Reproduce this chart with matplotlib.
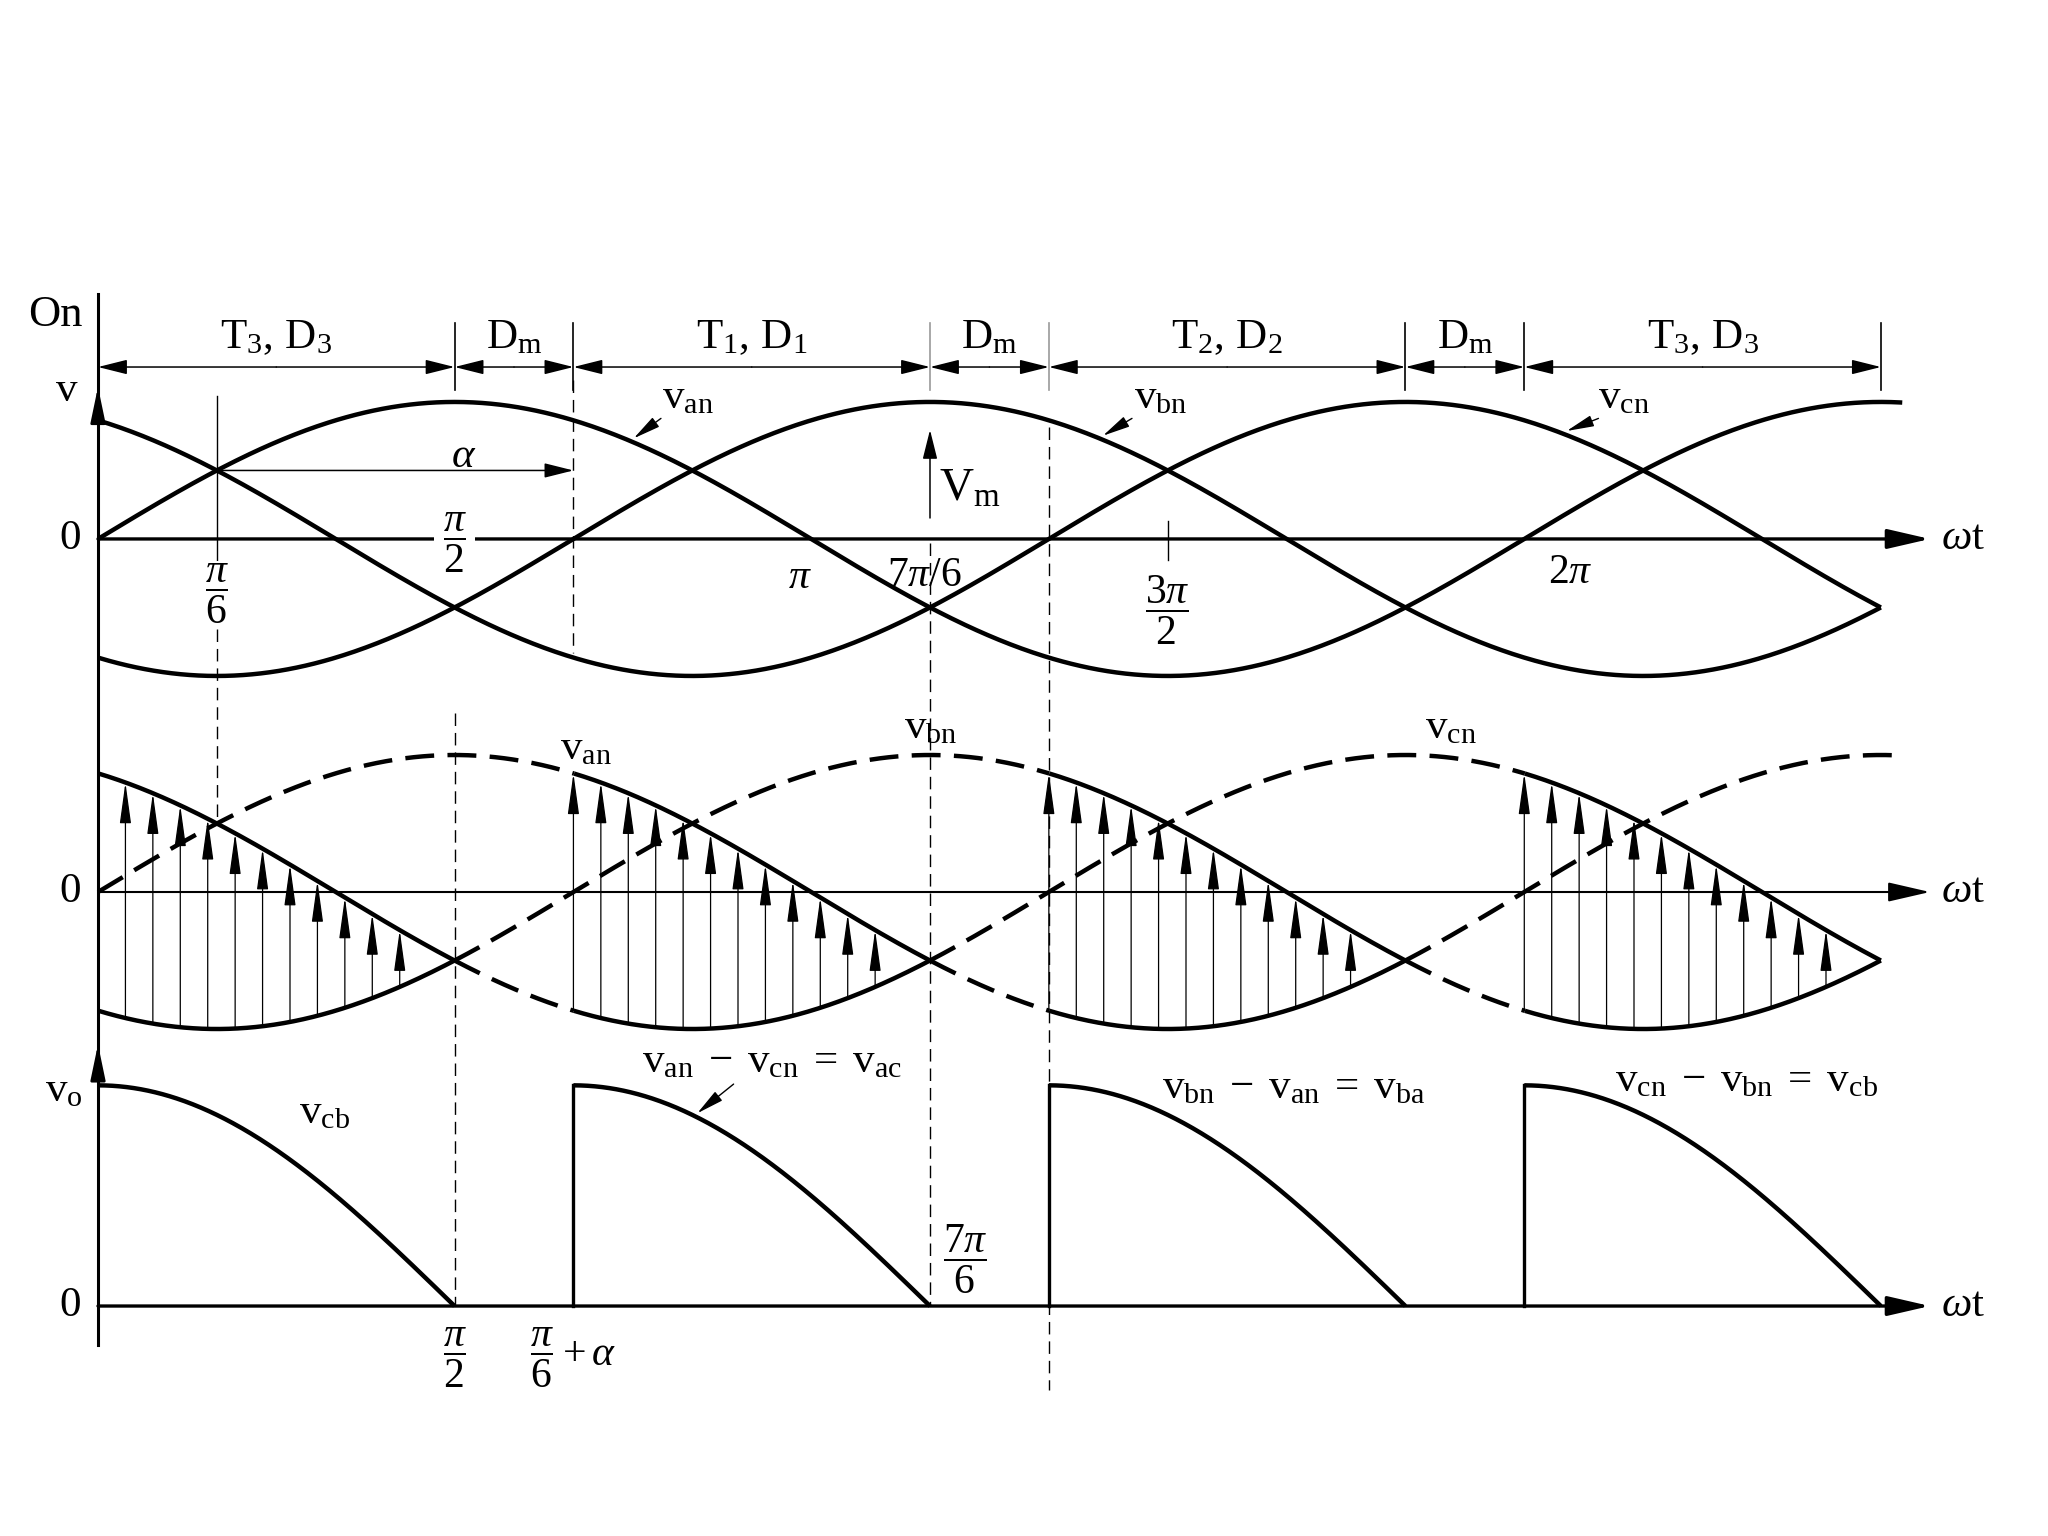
import numpy as np
import matplotlib.pyplot as plt

plt.rcParams['font.family'] = ['Liberation Serif', 'DejaVu Serif']
plt.rcParams['mathtext.fontset'] = 'custom'
plt.rcParams['mathtext.rm'] = 'Liberation Serif'
plt.rcParams['mathtext.it'] = 'Liberation Serif:italic'
plt.rcParams['mathtext.bf'] = 'Liberation Serif:bold'

PI = np.pi

# phase voltages in units of Vm
PHASES = ['an', 'bn', 'cn']
PHASE_SHIFT = [0.0, -2 * PI / 3, 2 * PI / 3]
CURVE_END = [2.53 * PI, 2.5 * PI, 2.5 * PI]

# firing angle and the conducting pairs (upper / lower phase) of each interval
ALPHA = PI / 2
COND_START = [0.0, 2 * PI / 3, 4 * PI / 3, 2 * PI]
COND_UPPER = ['cn', 'an', 'bn', 'cn']
COND_LOWER = ['bn', 'cn', 'an', 'bn']
ARROWS_PER_INTERVAL = 12

# "On" row
ON_EDGES = [0, PI / 2, 2 * PI / 3, 7 * PI / 6, 4 * PI / 3, 11 * PI / 6, 2 * PI, 5 * PI / 2]
ON_LABELS = [r'$\mathrm{T_3,\,D_3}$', r'$\mathrm{D_m}$', r'$\mathrm{T_1,\,D_1}$', r'$\mathrm{D_m}$',
             r'$\mathrm{T_2,\,D_2}$', r'$\mathrm{D_m}$', r'$\mathrm{T_3,\,D_3}$']
ON_TICK_GREY = [False, False, False, True, True, False, False, False]

# output-voltage labels
VO_LABELS = [r'$\mathrm{v_{cb}}$', r'$\mathrm{v_{an}\;-\;v_{cn}\;=\;v_{ac}}$',
             r'$\mathrm{v_{bn}\;-\;v_{an}\;=\;v_{ba}}$', r'$\mathrm{v_{cn}\;-\;v_{bn}\;=\;v_{cb}}$']

# layout (panel zero levels, in Vm units)
TOP0, MID0, BOT0 = -3.934, -6.511, -9.533
VO_SCALE = 0.93
XEND = 8.07
FS = 31
FFS = 30


def phase(name, th):
    return np.sin(th + PHASE_SHIFT[PHASES.index(name)])


def arrow(ax, p0, p1, lw=1.1, hl=1.0, hw=0.33, ms=16, style='-|>', color='k', z=5):
    ax.annotate('', xy=p1, xytext=p0,
                arrowprops=dict(arrowstyle='%s,head_length=%g,head_width=%g' % (style, hl, hw),
                                lw=lw, color=color, shrinkA=0, shrinkB=0, mutation_scale=ms),
                zorder=z)


fig = plt.figure(figsize=(20.48, 15.36), dpi=100)
ax = fig.add_axes([0, 0, 1, 1])
ax.set_xlim(-98 / 227, 1950 / 227)
ax.set_ylim(-1536 / 137, 0)
ax.axis('off')

cond_len = PI - ALPHA

# ---- vertical axis and zero lines
ax.plot([0, 0], [-2.146, -9.818], 'k', lw=2.2, zorder=3)
arrow(ax, (0, TOP0 + 0.9), (0, TOP0 + 1.11), lw=2.0, ms=18, hl=1.2, hw=0.25)
arrow(ax, (0, BOT0 + 1.7), (0, BOT0 + 1.91), lw=2.0, ms=18, hl=1.2, hw=0.25)
for lev, lw in [(TOP0, 2.4), (MID0, 1.5), (BOT0, 2.4)]:
    arrow(ax, (0, lev), (XEND, lev), lw=lw, ms=20, hl=1.3, hw=0.3, z=2)
    ax.text(-0.125, lev, '0', ha='center', va='center', fontsize=FS)
    ax.text(8.12, lev, r'$\omega\mathrm{t}$', ha='left', va='center', fontsize=FS)

ax.text(-0.19, TOP0 + 1.635, 'On', ha='center', va='center', fontsize=FS + 1)
ax.text(-0.137, TOP0 + 1.08, 'v', ha='center', va='center', fontsize=FS)
ax.text(-0.15, BOT0 + 1.57, r'$\mathrm{v_o}$', ha='center', va='center', fontsize=FS)

# ---- "On" row
for a, b, lab in zip(ON_EDGES[:-1], ON_EDGES[1:], ON_LABELS):
    arrow(ax, ((a + b) / 2, TOP0 + 1.255), (a, TOP0 + 1.255), lw=1.1, ms=15, hl=1.2, hw=0.3)
    arrow(ax, ((a + b) / 2, TOP0 + 1.255), (b, TOP0 + 1.255), lw=1.1, ms=15, hl=1.2, hw=0.3)
    ax.text((a + b) / 2, TOP0 + 1.47, lab, ha='center', va='center', fontsize=FS)
for e, grey in zip(ON_EDGES[1:], ON_TICK_GREY[1:]):
    ax.plot([e, e], [TOP0 + 1.577, TOP0 + 1.088], color='0.6' if grey else 'k', lw=1.2)

# ---- top panel: three phase voltages
for name, end in zip(PHASES, CURVE_END):
    th = np.linspace(0, end, 800)
    ax.plot(th, TOP0 + phase(name, th), 'k', lw=3.2, zorder=4, solid_capstyle='butt')

lab_top = [(2.60, 2.48, 2.36), (4.68, 4.555, 4.427), (6.72, 6.61, 6.47)]
for name, (tx, sx, px) in zip(PHASES, lab_top):
    ax.text(tx, TOP0 + 1.03, r'$\mathrm{v_{%s}}$' % name, ha='center', va='center', fontsize=FS)
    arrow(ax, (sx, TOP0 + 0.88), (px, TOP0 + phase(name, px) + 0.03), lw=1.0, ms=14, hl=1.2, hw=0.25)

# reference lines
dash = dict(color='k', lw=1.0, dashes=(9, 5), zorder=1)
ax.plot([PI / 6, PI / 6], [TOP0 + 1.04, TOP0 - 0.15], 'k', lw=1.0, zorder=1)
ax.plot([PI / 6, PI / 6], [TOP0 - 0.66, MID0 + 0.5], **dash)
ax.plot([PI / 2, PI / 2], [MID0 + 1.31, BOT0], **dash)
ax.plot([2 * PI / 3, 2 * PI / 3], [TOP0 + 1.16, TOP0 - 0.83], **dash)
ax.plot([7 * PI / 6, 7 * PI / 6], [TOP0 - 0.03, BOT0], **dash)
ax.plot([4 * PI / 3, 4 * PI / 3], [TOP0 + 0.82, BOT0 - 0.615], **dash)
ax.plot([3 * PI / 2, 3 * PI / 2], [TOP0 + 0.13, TOP0 - 0.15], 'k', lw=1.0)

# alpha and Vm
arrow(ax, (PI / 6, TOP0 + 0.5), (2 * PI / 3, TOP0 + 0.5), lw=1.1, ms=15, hl=1.2, hw=0.3)
ax.text(1.61, TOP0 + 0.60, r'$\alpha$', ha='center', va='center', fontsize=FS)
arrow(ax, (7 * PI / 6, TOP0 + 0.153), (7 * PI / 6, TOP0 + 0.796), lw=1.1, ms=15, hl=1.2, hw=0.3)
ax.text(3.84, TOP0 + 0.36, r'$\mathrm{V_m}$', ha='center', va='center', fontsize=FS + 3)

# top tick labels
bb = dict(facecolor='white', edgecolor='none', pad=6.0)
ax.text(PI / 6, TOP0 - 0.40, r'$\dfrac{\pi}{6}$', ha='center', va='center', fontsize=FFS,
        bbox=dict(facecolor='white', edgecolor='none', pad=0.5), zorder=2)
ax.text(PI / 2, TOP0 - 0.03, r'$\dfrac{\pi}{2}$', ha='center', va='center', fontsize=FFS, bbox=bb, zorder=2.5)
ax.text(3.09, TOP0 - 0.28, r'$\pi$', ha='center', va='center', fontsize=FFS)
ax.text(3.64, TOP0 - 0.27, r'$\mathrm{7}\pi\mathrm{/6}$', ha='center', va='center', fontsize=FFS)
ax.text(3 * PI / 2, TOP0 - 0.52, r'$\dfrac{3\pi}{2}$', ha='center', va='center', fontsize=FFS)
ax.text(6.485, TOP0 - 0.25, r'$2\pi$', ha='center', va='center', fontsize=FFS)

# ---- middle panel: conducting phases (solid), others dashed, arrows between
for name, end in zip(PHASES, CURVE_END):
    th = np.linspace(0, end, 2400)
    solid = np.zeros_like(th, dtype=bool)
    for s, up, lo in zip(COND_START, COND_UPPER, COND_LOWER):
        if name in (up, lo):
            solid |= (th >= s) & (th <= s + cond_len)
    y = MID0 + phase(name, th)
    dashed = ~solid | np.roll(~solid, 1) | np.roll(~solid, -1)
    ax.plot(th, np.where(solid, y, np.nan), 'k', lw=3.2, zorder=4, solid_capstyle='butt')
    ax.plot(th, np.where(dashed, y, np.nan), 'k', lw=3.2, dashes=(6.5, 3), zorder=4)

step = cond_len / (ARROWS_PER_INTERVAL + 1)
for s, up, lo in zip(COND_START, COND_UPPER, COND_LOWER):
    for k in range(ARROWS_PER_INTERVAL):
        t = s + k * step
        if t == 0:
            continue
        arrow(ax, (t, MID0 + phase(lo, t)), (t, MID0 + phase(up, t)),
              lw=0.9, ms=16, hl=1.6, hw=0.22, z=3)

for name, (tx, ty) in zip(PHASES, [(2.15, 1.04), (3.67, 1.20), (5.96, 1.20)]):
    ax.text(tx, MID0 + ty, r'$\mathrm{v_{%s}}$' % name, ha='center', va='center', fontsize=FS)

# ---- bottom panel: output voltage
for s, up, lo in zip(COND_START, COND_UPPER, COND_LOWER):
    th = np.linspace(s, s + cond_len, 400)
    vo = VO_SCALE * (phase(up, th) - phase(lo, th))
    ax.plot(th, BOT0 + vo, 'k', lw=3.2, zorder=4, solid_capstyle='butt')
    if s > 0:
        ax.plot([s, s], [BOT0, BOT0 + vo[0]], 'k', lw=2.4, zorder=4)

vo_pos = [(1.0, 1.41), (2.97, 1.78), (5.27, 1.59), (7.26, 1.64)]
for lab, (tx, ty) in zip(VO_LABELS, vo_pos):
    ax.text(tx, BOT0 + ty, lab, ha='center', va='center', fontsize=FS)
t_tip = 2.64
arrow(ax, (2.80, BOT0 + 1.62),
      (t_tip, BOT0 + VO_SCALE * (phase('an', t_tip) - phase('cn', t_tip)) + 0.03),
      lw=1.0, ms=14, hl=1.2, hw=0.25)

ax.text(PI / 2, BOT0 - 0.38, r'$\dfrac{\pi}{2}$', ha='center', va='center', fontsize=FFS)
ax.text(2 * PI / 3, BOT0 - 0.38, r'$\dfrac{\pi}{6}+\alpha$', ha='center', va='center', fontsize=FFS)
ax.text(3.82, BOT0 + 0.34, r'$\dfrac{7\pi}{6}$', ha='center', va='center', fontsize=FFS)

fig.savefig('out.png', dpi=100, facecolor='white')
